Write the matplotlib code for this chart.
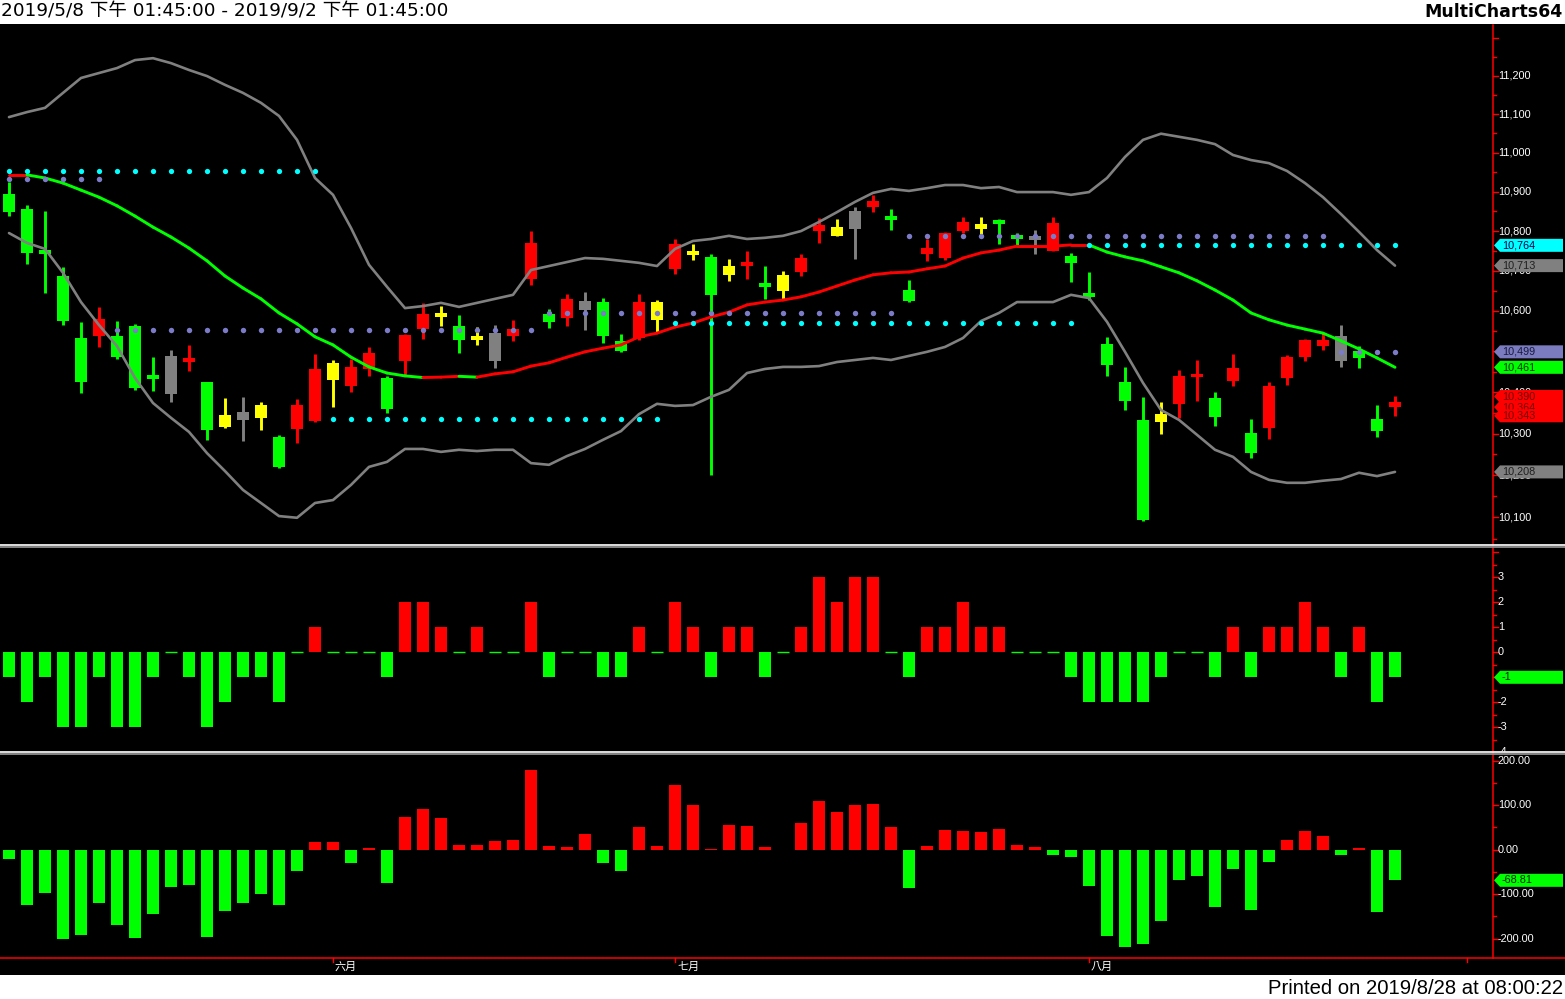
import numpy as np
import matplotlib
matplotlib.use("Agg")
import matplotlib.pyplot as plt
from matplotlib.lines import Line2D
from matplotlib.patches import Polygon, Rectangle
from matplotlib.collections import LineCollection
from matplotlib import transforms as mtrans

W, H, DPI = 1565, 999, 100

# ---------------- texts ----------------
title_text = "2019/5/8 下午 01:45:00 - 2019/9/2 下午 01:45:00"
brand_text = "MultiCharts64"
printed_text = "Printed on 2019/8/28 at 08:00:22"
month_labels = ["六月", "七月", "八月"]
month_index = [18, 37, 60]
extra_month_tick = [81]

# ---------------- candles ----------------
opens = [10894, 10856, 10749, 10687, 10534, 10539, 10539, 10563, 10440, 10489,
         10476, 10424, 10345, 10352, 10369, 10292, 10312, 10330, 10472, 10416,
         10457, 10436, 10476, 10556, 10592, 10563, 10536, 10546, 10539, 10680,
         10593, 10583, 10625, 10622, 10526, 10534, 10622, 10705, 10747, 10735,
         10712, 10715, 10667, 10690, 10697, 10801, 10811, 10851, 10861, 10835,
         10652, 10742, 10732, 10801, 10818, 10826, 10787, 10784, 10749, 10737,
         10642, 10519, 10424, 10332, 10347, 10371, 10439, 10386, 10428, 10302,
         10314, 10436, 10486, 10514, 10539, 10501, 10335, 10364]
closes = [10849, 10744, 10745, 10575, 10424, 10580, 10486, 10411, 10436, 10396,
          10480, 10309, 10316, 10332, 10337, 10219, 10369, 10458, 10431, 10462,
          10496, 10360, 10541, 10593, 10588, 10529, 10532, 10476, 10556, 10769,
          10573, 10630, 10602, 10539, 10501, 10622, 10578, 10767, 10743, 10640,
          10690, 10720, 10663, 10650, 10732, 10816, 10787, 10806, 10876, 10831,
          10625, 10757, 10795, 10823, 10806, 10821, 10784, 10780, 10820, 10720,
          10637, 10467, 10379, 10093, 10327, 10440, 10443, 10340, 10460, 10253,
          10416, 10486, 10529, 10529, 10476, 10484, 10306, 10376]
highs = [10924, 10866, 10851, 10710, 10573, 10610, 10575, 10568, 10486, 10504,
         10516, 10426, 10386, 10389, 10376, 10297, 10384, 10494, 10480, 10482,
         10511, 10439, 10544, 10620, 10612, 10590, 10560, 10565, 10578, 10800,
         10605, 10642, 10647, 10632, 10544, 10642, 10627, 10780, 10767, 10742,
         10730, 10750, 10712, 10700, 10742, 10833, 10830, 10861, 10891, 10856,
         10677, 10780, 10797, 10835, 10835, 10830, 10795, 10802, 10835, 10744,
         10697, 10536, 10462, 10389, 10376, 10455, 10480, 10401, 10494, 10335,
         10424, 10491, 10531, 10546, 10565, 10514, 10369, 10390]
lows = [10839, 10717, 10645, 10564, 10399, 10511, 10481, 10406, 10403, 10376,
        10452, 10284, 10313, 10282, 10308, 10217, 10277, 10327, 10364, 10401,
        10439, 10350, 10440, 10531, 10563, 10496, 10516, 10460, 10526, 10665,
        10558, 10563, 10553, 10521, 10499, 10529, 10548, 10692, 10727, 10200,
        10675, 10680, 10630, 10630, 10687, 10770, 10787, 10730, 10849, 10803,
        10622, 10725, 10727, 10795, 10793, 10767, 10765, 10742, 10749, 10672,
        10628, 10440, 10356, 10091, 10299, 10337, 10379, 10318, 10416, 10241,
        10287, 10418, 10476, 10504, 10462, 10460, 10292, 10343]
# G = green, R = red, Y = yellow, S = gray
candle_kind = ("GGGGGRGGGS" "RGYSYGRRYR" "RGRRYGYSRR" "GRSGGRYRYG"
               "YRGYRRYSRG" "GRRRYGGSRG" "GGGGYRRGRG" "RRRRSGGR")

# ---------------- bands ----------------
bb_upper = [11092, 11105, 11116, 11155, 11194, 11207, 11220, 11241, 11246, 11233,
            11215, 11199, 11176, 11155, 11129, 11095, 11033, 10935, 10892, 10808,
            10715, 10660, 10607, 10612, 10620, 10610, 10620, 10630, 10640, 10702,
            10712, 10722, 10732, 10730, 10725, 10720, 10712, 10755, 10775, 10780,
            10788, 10780, 10783, 10788, 10800, 10823, 10848, 10874, 10897, 10907,
            10902, 10909, 10917, 10917, 10909, 10912, 10899, 10899, 10899, 10892,
            10899, 10935, 10989, 11033, 11049, 11041, 11033, 11022, 10994, 10981,
            10973, 10953, 10922, 10886, 10843, 10798, 10752, 10713]
bb_lower = [10795, 10770, 10755, 10695, 10622, 10565, 10513, 10435, 10374, 10338,
            10304, 10253, 10210, 10165, 10134, 10103, 10099, 10134, 10141, 10177,
            10220, 10232, 10263, 10263, 10256, 10261, 10258, 10261, 10261, 10229,
            10225, 10246, 10263, 10285, 10306, 10347, 10372, 10367, 10369, 10389,
            10406, 10447, 10457, 10462, 10462, 10464, 10474, 10479, 10484, 10479,
            10489, 10499, 10511, 10533, 10575, 10595, 10622, 10622, 10622, 10640,
            10632, 10573, 10499, 10423, 10357, 10333, 10297, 10261, 10244, 10208,
            10189, 10182, 10182, 10187, 10191, 10206, 10198, 10208]
bb_mid = [10943, 10943, 10935, 10922, 10904, 10886, 10864, 10838, 10810, 10785,
          10757, 10725, 10687, 10657, 10630, 10595, 10568, 10536, 10516, 10486,
          10462, 10447, 10440, 10436, 10437, 10439, 10437, 10445, 10450, 10464,
          10472, 10486, 10499, 10508, 10516, 10536, 10545, 10560, 10570, 10585,
          10597, 10615, 10622, 10627, 10635, 10647, 10662, 10677, 10690, 10695,
          10697, 10705, 10712, 10732, 10745, 10752, 10762, 10762, 10762, 10765,
          10765, 10747, 10735, 10725, 10710, 10695, 10675, 10652, 10627, 10595,
          10578, 10565, 10555, 10545, 10526, 10506, 10484, 10461]

# ---------------- dotted levels ----------------
cyan_levels = [10953, 10335, 10570, 10764]
cyan_ranges = [(0, 17), (18, 36), (37, 59), (60, 77)]
slate_levels = [10932, 10552, 10594, 10787, 10499]
slate_ranges = [(0, 5), (6, 29), (30, 49), (50, 73), (74, 77)]

# ---------------- sub panels ----------------
osc_mid = [-1, -2, -1, -3, -3, -1, -3, -3, -1, 0,
           -1, -3, -2, -1, -1, -2, 0, 1, 0, 0,
           0, -1, 2, 2, 1, 0, 1, 0, 0, 2,
           -1, 0, 0, -1, -1, 1, 0, 2, 1, -1,
           1, 1, -1, 0, 1, 3, 2, 3, 3, 0,
           -1, 1, 1, 2, 1, 1, 0, 0, 0, -1,
           -2, -2, -2, -2, -1, 0, 0, -1, 1, -1,
           1, 1, 2, 1, -1, 1, -2, -1]
osc_bot = [-22, -124, -97, -200, -191, -119, -169, -198, -144, -83,
           -79, -196, -137, -119, -99, -124, -47, 18, 18, -29,
           3, -74, 74, 92, 72, 11, 11, 20, 22, 180,
           9, 7, 36, -29, -47, 52, 9, 146, 101, 2,
           56, 54, 7, 0, 61, 110, 85, 101, 103, 52,
           -85, 9, 45, 43, 40, 47, 11, 7, -11, -16,
           -81, -193, -218, -211, -160, -67, -58, -128, -43, -135,
           -27, 22, 43, 31, -13, 3, -140, -68.81]

# axis labels (those entirely hidden behind value tags in the reference are left out)
main_label_values = [10100, 10200, 10300, 10400, 10600, 10700, 10800, 10900,
                     11000, 11100, 11200]
mid_label_values = [3, 2, 1, 0, -2, -3, -4]
bot_label_values = [200, 100, 0, -100, -200]

main_tag_values = [10764, 10713, 10499, 10461, 10390, 10364, 10343, 10208]
main_tag_colors = ["#00FFFF", "#808080", "#7B7BC0", "#00FF00",
                   "#FF0000", "#FF0000", "#FF0000", "#808080"]
main_tag_text_colors = ["#000050", "#202020", "#1a1a40", "#003000",
                        "#700000", "#700000", "#700000", "#202020"]
mid_tag_value = -1
bot_tag_value = -68.81

RED = "#FF0000"
GREEN = "#00FF00"
YELLOW = "#FFFF00"
GRAY = "#808080"
kind_color = {"G": GREEN, "R": RED, "Y": YELLOW, "S": GRAY}

plt.rcParams["font.family"] = ["DejaVu Sans"]

fig = plt.figure(figsize=(W / DPI, H / DPI), dpi=DPI)
fig.patch.set_facecolor("white")
fig.add_artist(Rectangle((0, 1 - 975 / H), 1, (975 - 24) / H, transform=fig.transFigure,
                         facecolor="black", edgecolor="none", zorder=-10))

n = len(opens)
x = np.arange(n)
XMIN = -0.5
XMAX = (W - 9) / 18.0


def make_ax(y0, y1):
    ax = fig.add_axes([0, 1 - y1 / H, 1, (y1 - y0) / H])
    ax.set_axis_off()
    ax.set_xlim(XMIN, XMAX)
    return ax


ax1 = make_ax(25, 544)
ax1.set_yscale("log")
ax1.set_ylim(10037.2, 11333.7)
ax1.set_xlim(XMIN, XMAX)
ax2 = make_ax(548, 752)
ax2.set_ylim(-3.988, 4.172)
ax3 = make_ax(755, 957)
ax3.set_ylim(-241.1, 212.8)

# ---------------- main panel ----------------
cols = [kind_color[k] for k in candle_kind]
ax1.vlines(x, lows, highs, colors=cols, linewidth=2.1, zorder=3)
min_ratio = 1.0009
body_w = 0.70
for i in range(n):
    lo, hi = min(opens[i], closes[i]), max(opens[i], closes[i])
    if hi / lo < min_ratio:
        c = np.sqrt(hi * lo)
        lo, hi = c / np.sqrt(min_ratio), c * np.sqrt(min_ratio)
    ax1.add_patch(Rectangle((i - body_w / 2, lo), body_w, hi - lo, facecolor=cols[i],
                            edgecolor="none", zorder=4))

ax1.plot(x, bb_upper, color=GRAY, lw=1.9, zorder=5, solid_capstyle="round")
ax1.plot(x, bb_lower, color=GRAY, lw=1.9, zorder=5, solid_capstyle="round")
segs = [[(i, bb_mid[i]), (i + 1, bb_mid[i + 1])] for i in range(n - 1)]
seg_cols = [RED if bb_mid[i + 1] >= bb_mid[i] else GREEN for i in range(n - 1)]
ax1.add_collection(LineCollection(segs, colors=seg_cols, linewidths=2.1,
                                  capstyle="round", zorder=6))

for lvl, (a, b) in zip(cyan_levels, cyan_ranges):
    xs = np.arange(a, b + 1)
    ax1.plot(xs, [lvl] * len(xs), "o", color="#00FFFF", ms=3.8, mec="none", zorder=7)
for lvl, (a, b) in zip(slate_levels, slate_ranges):
    xs = np.arange(a, b + 1)
    ax1.plot(xs, [lvl] * len(xs), "o", color="#7B7BC8", ms=3.9, mec="none", zorder=7)

# ---------------- middle panel ----------------
mid_cols = [RED if v > 0 else GREEN for v in osc_mid]
ax2.bar(x, osc_mid, width=0.62, color=mid_cols, linewidth=0, zorder=3)
zero_idx = np.array([i for i, v in enumerate(osc_mid) if v == 0])
ax2.hlines(np.zeros(len(zero_idx)), zero_idx - 0.31, zero_idx + 0.31, color=GREEN,
           lw=1.0, zorder=3)

# ---------------- bottom panel ----------------
bot_cols = [RED if v > 0 else GREEN for v in osc_bot]
ax3.bar(x, osc_bot, width=0.63, color=bot_cols, linewidth=0, zorder=3)

# ---------------- right price axes ----------------
XA = 1492.5
lab_font = dict(family="Liberation Sans", size=7.8, color="white")


def right_axis(ax, majors, minors, labels):
    tr = mtrans.blended_transform_factory(ax.transAxes, ax.transData)
    for v in majors:
        ax.add_line(Line2D([XA / W, (XA + 5) / W], [v, v], transform=tr, color=RED,
                           lw=1.0, zorder=10))
    for v in minors:
        ax.add_line(Line2D([XA / W, (XA + 3) / W], [v, v], transform=tr, color=RED,
                           lw=1.0, zorder=10))
    for v, s in labels:
        ax.text(1498 / W, v, s, transform=tr, ha="left", va="center", clip_on=True,
                zorder=11, **lab_font)


m_major = list(range(10100, 11301, 100))
m_minor = list(range(10050, 11300, 100))
right_axis(ax1, m_major, m_minor, [(v, f"{v:,}") for v in main_label_values])
right_axis(ax2, list(range(-4, 5)), [v + 0.5 for v in range(-5, 5)],
           [(v, str(v)) for v in mid_label_values])
right_axis(ax3, list(range(-200, 201, 100)), list(range(-250, 251, 100)),
           [(v, f"{v:.2f}") for v in bot_label_values])

tag_z = [20]


def tag(ax, v, text, face, tcolor):
    yd = ax.transData.transform((0, v))[1]
    hh = 6.5
    verts = np.array([(1494, yd), (1500, yd + hh), (1563, yd + hh), (1563, yd - hh),
                      (1500, yd - hh)]) / np.array([W, H])
    fig.add_artist(Polygon(verts, closed=True, transform=fig.transFigure, facecolor=face,
                           edgecolor="none", zorder=tag_z[0]))
    fig.text(1502 / W, yd / H, text, ha="left", va="center", color=tcolor,
             family="Liberation Sans", size=7.8, zorder=tag_z[0] + 1)
    tag_z[0] += 2


for v, fc, tc in zip(main_tag_values, main_tag_colors, main_tag_text_colors):
    tag(ax1, v, f"{v:,}", fc, tc)
tag(ax2, mid_tag_value, f"{mid_tag_value}", GREEN, "#002000")
tag(ax3, bot_tag_value, f"{bot_tag_value:.2f}", GREEN, "#002000")

# ---------------- frame lines ----------------
fig.add_artist(Line2D([XA / W, XA / W], [1 - 25 / H, 1 - 958 / H], transform=fig.transFigure,
                      color=RED, lw=1.1, zorder=15))
fig.add_artist(Line2D([0, 1], [1 - 957.8 / H, 1 - 957.8 / H], transform=fig.transFigure,
                      color=RED, lw=1.1, zorder=15))
for yw, yg in [(544.8, 546.6), (752.3, 754.2)]:
    fig.add_artist(Line2D([0, 1], [1 - yw / H] * 2, transform=fig.transFigure,
                          color="#F0F0F0", lw=1.3, zorder=40))
    fig.add_artist(Line2D([0, 1], [1 - yg / H] * 2, transform=fig.transFigure,
                          color="#909090", lw=1.3, zorder=40))

# month ticks and labels
for idx in month_index + extra_month_tick:
    xd = ax3.transData.transform((idx, 0))[0]
    fig.add_artist(Line2D([xd / W, xd / W], [1 - 958 / H, 1 - 962 / H],
                          transform=fig.transFigure, color=RED, lw=1.0, zorder=15))
for lab, idx in zip(month_labels, month_index):
    xd = ax3.transData.transform((idx, 0))[0]
    fig.text((xd + 2) / W, 1 - 967 / H, lab, ha="left", va="center", color="white",
             family=["Noto Sans CJK TC", "DejaVu Sans"], size=8)

# ---------------- header / footer ----------------
fig.text(1 / W, 1 - 12 / H, title_text, ha="left", va="center", color="black",
         family=["DejaVu Sans", "Noto Sans CJK TC"], size=13.3)
fig.text(1563 / W, 1 - 12 / H, brand_text, ha="right", va="center", color="black",
         family="DejaVu Sans", weight="bold", size=12.5)
fig.text(1563 / W, 1 - 988 / H, printed_text, ha="right", va="center", color="black",
         family="Liberation Sans", size=14.6)

fig.savefig("out.png", dpi=DPI, facecolor="white")
